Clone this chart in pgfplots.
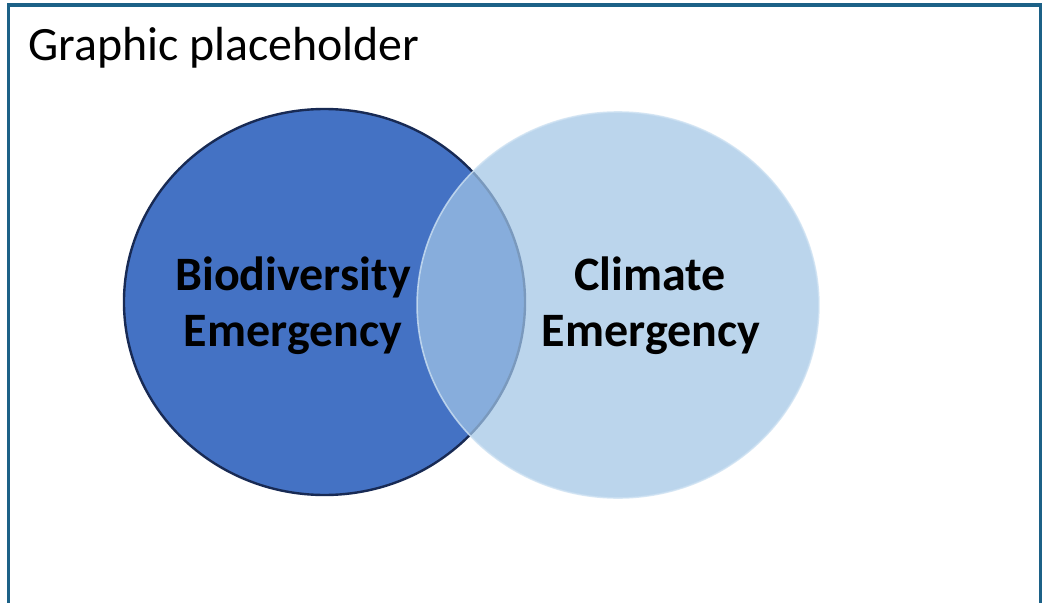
\documentclass[border=0pt]{standalone}
\usepackage{pgfplots}
\pgfplotsset{compat=1.18}
\usepackage{fontspec}
\setmainfont{Carlito}
\definecolor{framecol}{RGB}{28,97,135}
\definecolor{bioblue}{RGB}{68,114,196}
\definecolor{bioedge}{RGB}{24,42,84}
\definecolor{climblue}{RGB}{161,197,230}
\definecolor{climedge}{RGB}{205,225,242}
\begin{document}
\begin{tikzpicture}
\begin{axis}[
  x=0.75pt, y=0.75pt, y dir=reverse,
  xmin=0, xmax=1043, ymin=0, ymax=603,
  scale only axis, hide axis, clip=true,
]
\path[fill=white] (rel axis cs:0,0) rectangle (rel axis cs:1,1);
% frame
\draw[framecol, line width=2.4pt] (axis cs:8.5,700) -- (axis cs:8.5,5) -- (axis cs:1040.5,5) -- (axis cs:1040.5,700);
% Biodiversity circle (centre in px, radius y = 193 px)
\addplot[only marks, mark=*, mark size=144.75pt,
  mark options={xscale=1.039, fill=bioblue, draw=bioedge, line width=1.8pt}]
  coordinates {(324.5,302)};
% Climate circle
\addplot[only marks, mark=*, mark size=144.75pt,
  mark options={xscale=1.041, fill=climblue, fill opacity=0.72, draw=climedge, draw opacity=0.8, line width=1.2pt}]
  coordinates {(618,305)};
\coordinate (t0) at (axis cs:28,61);
\coordinate (b1) at (axis cs:293,291);
\coordinate (b2) at (axis cs:293,347);
\coordinate (c1) at (axis cs:650,291);
\coordinate (c2) at (axis cs:651,347);
\end{axis}
\node[anchor=base west, inner sep=0pt, font=\fontsize{35.9}{42}\selectfont] at (t0) {Graphic placeholder};
\node[anchor=base, inner sep=0pt, font=\bfseries\fontsize{36}{42}\selectfont] at (b1) {Biodiversity};
\node[anchor=base, inner sep=0pt, font=\bfseries\fontsize{36}{42}\selectfont] at (b2) {Emergency};
\node[anchor=base, inner sep=0pt, font=\bfseries\fontsize{36}{42}\selectfont] at (c1) {Climate};
\node[anchor=base, inner sep=0pt, font=\bfseries\fontsize{36}{42}\selectfont] at (c2) {Emergency};
\end{tikzpicture}
\end{document}
